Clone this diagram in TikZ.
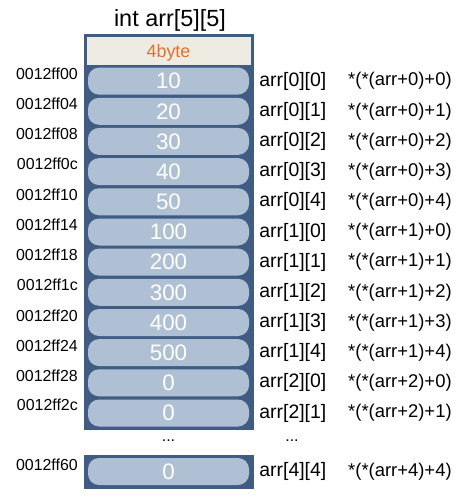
\documentclass[tikz,border=0pt]{standalone}
\usepackage{fontspec}
\setmainfont{Liberation Sans}
\definecolor{framblue}{RGB}{64,92,130}
\definecolor{cellblue}{RGB}{175,192,212}
\definecolor{headbeige}{RGB}{238,236,226}
\definecolor{byteorange}{RGB}{226,112,44}
\begin{document}
\begin{tikzpicture}[x=1bp,y=-1bp,
    cell/.style={rounded corners=11bp,fill=cellblue,minimum width=161bp,minimum height=27bp,
                 inner sep=0pt,text=white,font=\fontsize{22.5}{22.5}\selectfont},
    addr/.style={anchor=east,inner sep=0pt,font=\fontsize{16}{16}\selectfont},
    idx/.style={anchor=west,inner sep=0pt,font=\fontsize{19.5}{19.5}\selectfont},
    expr/.style={anchor=west,inner sep=0pt,font=\fontsize{18.5}{18.5}\selectfont}]
    \useasboundingbox (0,0) rectangle (466,498);

    % title and frame
    \node[font=\fontsize{23.5}{23.5}\selectfont] (title) at (170,20) {int arr[5][5]};
    \draw[framblue,line width=3bp,fill=framblue] (85,36) rectangle (252,428);
    \fill[headbeige] (86.5,37.5) rectangle (250.5,65);
    \node[text=byteorange,font=\fontsize{18}{18}\selectfont] (head) at (168.5,53) {4byte};

    % cells of arr[0] .. arr[2]
    \node[cell] (c0) at (168.5,81.1) {10};
    \node[cell] (c1) at (168.5,111.3) {20};
    \node[cell] (c2) at (168.5,141.4) {30};
    \node[cell] (c3) at (168.5,171.6) {40};
    \node[cell] (c4) at (168.5,201.8) {50};
    \node[cell] (c5) at (168.5,232) {100};
    \node[cell] (c6) at (168.5,262.1) {200};
    \node[cell] (c7) at (168.5,292.3) {300};
    \node[cell] (c8) at (168.5,322.5) {400};
    \node[cell] (c9) at (168.5,352.6) {500};
    \node[cell] (c10) at (168.5,382.8) {0};
    \node[cell] (c11) at (168.5,413) {0};

    % addresses
    \node[addr] (a0) at (78,74) {0012ff00};
    \node[addr] (a1) at (78,104) {0012ff04};
    \node[addr] (a2) at (78,134) {0012ff08};
    \node[addr] (a3) at (78,164) {0012ff0c};
    \node[addr] (a4) at (78,194.5) {0012ff10};
    \node[addr] (a5) at (78,225) {0012ff14};
    \node[addr] (a6) at (78,255) {0012ff18};
    \node[addr] (a7) at (78,285) {0012ff1c};
    \node[addr] (a8) at (78,315.5) {0012ff20};
    \node[addr] (a9) at (78,345.5) {0012ff24};
    \node[addr] (a10) at (78,375.5) {0012ff28};
    \node[addr] (a11) at (78,405) {0012ff2c};

    % index and pointer notation
    \node[idx] (i0) at (c0.east) [xshift=10bp] {arr[0][0]};
    \node[idx] (i1) at (c1.east) [xshift=10bp] {arr[0][1]};
    \node[idx] (i2) at (c2.east) [xshift=10bp] {arr[0][2]};
    \node[idx] (i3) at (c3.east) [xshift=10bp] {arr[0][3]};
    \node[idx] (i4) at (c4.east) [xshift=10bp] {arr[0][4]};
    \node[idx] (i5) at (c5.east) [xshift=10bp] {arr[1][0]};
    \node[idx] (i6) at (c6.east) [xshift=10bp] {arr[1][1]};
    \node[idx] (i7) at (c7.east) [xshift=10bp] {arr[1][2]};
    \node[idx] (i8) at (c8.east) [xshift=10bp] {arr[1][3]};
    \node[idx] (i9) at (c9.east) [xshift=10bp] {arr[1][4]};
    \node[idx] (i10) at (c10.east) [xshift=10bp] {arr[2][0]};
    \node[idx] (i11) at (c11.east) [xshift=10bp] {arr[2][1]};

    \node[expr] (e0) at (348,81.1) {*(*(arr+0)+0)};
    \node[expr] (e1) at (348,111.3) {*(*(arr+0)+1)};
    \node[expr] (e2) at (348,141.4) {*(*(arr+0)+2)};
    \node[expr] (e3) at (348,171.6) {*(*(arr+0)+3)};
    \node[expr] (e4) at (348,201.8) {*(*(arr+0)+4)};
    \node[expr] (e5) at (348,232) {*(*(arr+1)+0)};
    \node[expr] (e6) at (348,262.1) {*(*(arr+1)+1)};
    \node[expr] (e7) at (348,292.3) {*(*(arr+1)+2)};
    \node[expr] (e8) at (348,322.5) {*(*(arr+1)+3)};
    \node[expr] (e9) at (348,352.6) {*(*(arr+1)+4)};
    \node[expr] (e10) at (348,382.8) {*(*(arr+2)+0)};
    \node[expr] (e11) at (348,413) {*(*(arr+2)+1)};

    % gap
    \node[font=\fontsize{16}{16}\selectfont] (dots) at (168.5,441) {...};
    \node[font=\fontsize{16}{16}\selectfont] (idots) at (292,441) {...};

    % last element
    \draw[framblue,line width=3bp,fill=framblue] (85,456) rectangle (252,487);
    \node[cell] (clast) at (168.5,471.5) {0};
    \node[addr] (alast) at (78,465) {0012ff60};
    \node[idx] (ilast) at (clast.east) [xshift=10bp] {arr[4][4]};
    \node[expr] (elast) at (348,471.5) {*(*(arr+4)+4)};
\end{tikzpicture}
\end{document}
